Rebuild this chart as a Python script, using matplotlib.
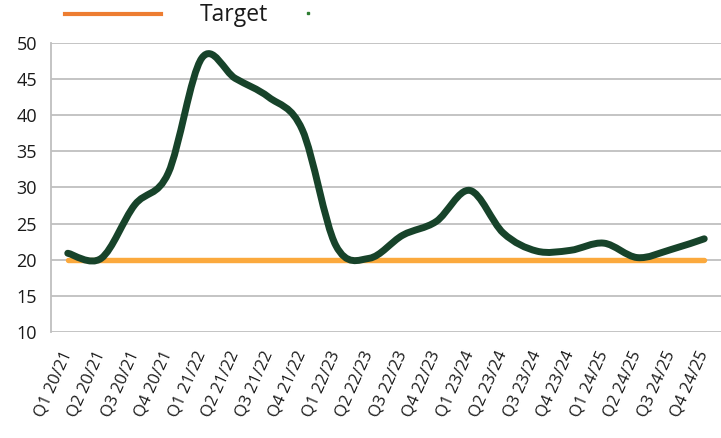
import numpy as np
import matplotlib.pyplot as plt
from matplotlib.path import Path
from matplotlib.patches import PathPatch
from matplotlib.lines import Line2D

plt.rcParams['font.family'] = ['Open Sans', 'DejaVu Sans']
# ================================================
quarters = ['Q1 20/21', 'Q2 20/21', 'Q3 20/21', 'Q4 20/21',
            'Q1 21/22', 'Q2 21/22', 'Q3 21/22', 'Q4 21/22',
            'Q1 22/23', 'Q2 22/23', 'Q3 22/23', 'Q4 22/23',
            'Q1 23/24', 'Q2 23/24', 'Q3 23/24', 'Q4 23/24',
            'Q1 24/25', 'Q2 24/25', 'Q3 24/25', 'Q4 24/25']
actual   = [20.9, 20.2, 27.6, 32.0, 47.9, 45.1, 42.5, 38.0,
            22.0, 20.2, 23.4, 25.3, 29.6, 23.7, 21.2, 21.3,
            22.3, 20.3, 21.4, 22.9]
target   = [20.0] * len(quarters)
# ================================================
green  = '#17432A'
orange = '#FBA93D'

def smooth_path(x, y):
    # Excel-style smoothed line: cubic Bezier through every point
    pts = np.c_[x, y]
    n = len(pts)
    verts = [pts[0]]
    codes = [Path.MOVETO]
    for i in range(n - 1):
        p0 = pts[i - 1] if i > 0 else pts[i]
        p1 = pts[i]
        p2 = pts[i + 1]
        p3 = pts[i + 2] if i + 2 < n else pts[i + 1]
        c1 = p1 + (p2 - p0) / 6
        c2 = p2 - (p3 - p1) / 6
        verts += [c1, c2, p2]
        codes += [Path.CURVE4] * 3
    return Path(verts, codes)

fig = plt.figure(figsize=(7.21, 4.38), dpi=100)
ax = fig.add_axes([51/721, 1 - 332/438, 670/721, 289/438])

xs = np.arange(len(quarters))
ax.plot(xs, target, color=orange, lw=3.9, solid_capstyle='round', zorder=3)
ax.add_patch(PathPatch(smooth_path(xs, actual), fill=False, edgecolor=green,
                       lw=5.0, capstyle='round', joinstyle='round', zorder=4))

ax.set_xlim(-0.5, len(quarters) - 0.5)
ax.set_ylim(10, 50)
ax.set_yticks(range(10, 51, 5))
ax.grid(axis='y', color='#BFBFBF', lw=1.3)
ax.set_axisbelow(True)
for s in ['top', 'right', 'bottom']:
    ax.spines[s].set_visible(False)
ax.spines['left'].set_color('#BFBFBF')
ax.spines['left'].set_linewidth(1.3)
ax.tick_params(axis='both', length=0, labelsize=13, colors='#1a1a1a')
ax.tick_params(axis='y', pad=10)
ax.set_xticks(xs)
ax.set_xticklabels(quarters, rotation=66, ha='right', va='center',
                   rotation_mode='anchor', fontsize=12)
ax.tick_params(axis='x', pad=14)

# legend across the top
fig.add_artist(Line2D([65/721, 161/721], [1 - 14/438] * 2, color='#ED7D31', lw=3.0))
fig.text(200/721, 1 - 15/438, 'Target', fontsize=16.5, va='center', ha='left', color='#1a1a1a')
fig.add_artist(Line2D([308/721], [1 - 13/438], marker='s', ms=1.5, color='#2E7D32', lw=0))

plt.savefig('out.png', dpi=100)
plt.close()
